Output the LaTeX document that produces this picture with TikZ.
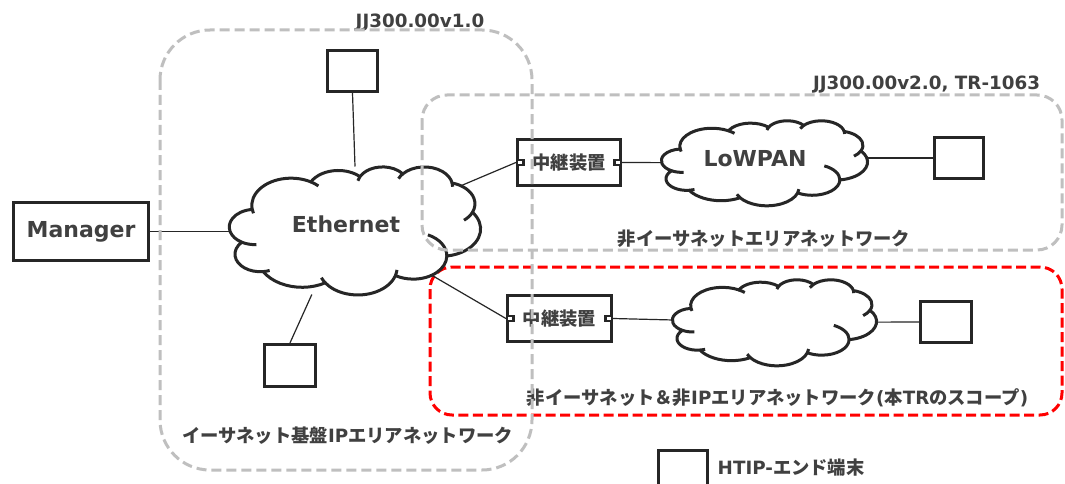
\documentclass[tikz,border=0pt]{standalone}
\usepackage{fontspec}
\setmainfont{DejaVu Sans}
\newfontfamily\latfont{DejaVu Sans}
\newfontfamily\jpfont{Noto Sans CJK JP}

\pgfdeclarelayer{bg}
\pgfdeclarelayer{wires}
\pgfdeclarelayer{fg}
\pgfsetlayers{bg,wires,main,fg}

\definecolor{ink}{HTML}{262626}
\definecolor{txt}{HTML}{404040}
\definecolor{zonegrey}{HTML}{BFBFBF}
\definecolor{scopered}{HTML}{FF0000}

% Latin run inside Japanese text
\newcommand\La[1]{{\latfont\bfseries #1}}

% Elliptic arc given by visual angles -> parametric start angle and sweep
\newcommand\cldprep[5]{%
  \pgfmathsetmacro\cldtmpS{atan2((#2)*sin(#4),(#3)*cos(#4))}%
  \pgfmathsetmacro\cldtmpE{atan2((#2)*sin(#5),(#3)*cos(#5))}%
  \pgfmathsetmacro\cldtmpD{mod(\cldtmpE-\cldtmpS+540,360)-180}%
  \expandafter\let\csname cldS#1\endcsname\cldtmpS
  \expandafter\let\csname cldD#1\endcsname\cldtmpD}

% Cloud: #1 name, #2/#3 centre, #4/#5 width/height (shape drawn on a 432x432 grid)
\newcommand\cloudat[5]{%
  \node[cloudbox, minimum width=#4, minimum height=#5] (#1) at (#2,#3) {};
  \pgfmathsetmacro\cldsx{#4/432}%
  \pgfmathsetmacro\cldsy{#5/432}%
  \begin{scope}[shift={(#2-#4/2,#3-#5/2)}, x=\cldsx pt, y=-\cldsy pt]
    \draw[cloudline, fill=white] (39.00,143.70) coordinate (#1-j1)
      arc[start angle=\cldSoa, delta angle=\cldDoa, x radius=67.53, y radius=91.90] coordinate (#1-j2)
      arc[start angle=\cldSob, delta angle=\cldDob, x radius=53.33, y radius=72.67] coordinate (#1-j3)
      arc[start angle=\cldSoc, delta angle=\cldDoc, x radius=43.65, y radius=59.45] coordinate (#1-j4)
      arc[start angle=\cldSod, delta angle=\cldDod, x radius=48.57, y radius=65.95] coordinate (#1-j5)
      arc[start angle=\cldSoe, delta angle=\cldDoe, x radius=53.33, y radius=72.73] coordinate (#1-j6)
      arc[start angle=\cldSof, delta angle=\cldDof, x radius=67.75, y radius=92.20] coordinate (#1-j7)
      arc[start angle=\cldSog, delta angle=\cldDog, x radius=57.85, y radius=78.67] coordinate (#1-j8)
      arc[start angle=\cldSoh, delta angle=\cldDoh, x radius=67.52, y radius=92.15] coordinate (#1-j9)
      arc[start angle=\cldSoi, delta angle=\cldDoi, x radius=77.20, y radius=105.43] coordinate (#1-j10)
      arc[start angle=\cldSoj, delta angle=\cldDoj, x radius=43.60, y radius=59.18] coordinate (#1-j11)
      arc[start angle=\cldSok, delta angle=\cldDok, x radius=43.45, y radius=59.45] -- cycle;
    \draw[cloudline]
      (#1-j1)  arc[start angle=\cldSha, delta angle=\cldDha, x radius=67.53, y radius=91.90]
      (#1-j11) arc[start angle=\cldShb, delta angle=\cldDhb, x radius=43.45, y radius=59.45]
      (#1-j10) arc[start angle=\cldShc, delta angle=\cldDhc, x radius=43.60, y radius=59.18]
      (#1-j9)  arc[start angle=\cldShd, delta angle=\cldDhd, x radius=67.52, y radius=92.15]
      (#1-j8)  arc[start angle=\cldShe, delta angle=\cldDhe, x radius=67.52, y radius=92.15]
      (#1-j7)  arc[start angle=\cldShf, delta angle=\cldDhf, x radius=57.85, y radius=78.67]
      (#1-j6)  arc[start angle=\cldShg, delta angle=\cldDhg, x radius=53.33, y radius=72.73]
      (#1-j5)  arc[start angle=\cldShh, delta angle=\cldDhh, x radius=48.57, y radius=65.95]
      (#1-j4)  arc[start angle=\cldShi, delta angle=\cldDhi, x radius=48.57, y radius=65.95]
      (#1-j3)  arc[start angle=\cldShj, delta angle=\cldDhj, x radius=43.65, y radius=59.45]
      (#1-j2)  arc[start angle=\cldShk, delta angle=\cldDhk, x radius=67.53, y radius=91.90];
  \end{scope}}

\begin{document}
\begin{tikzpicture}[x=1pt, y=-1pt,
  boxline/.style={draw=ink, line width=3.2pt, fill=white, inner sep=0pt},
  termbox/.style={boxline, minimum width=50, minimum height=41},
  relaybox/.style={boxline, minimum width=103, minimum height=46, text=txt,
    font=\jpfont\bfseries\fontsize{18.3}{22}\selectfont},
  portbox/.style={draw=ink, line width=2.4pt, fill=white, minimum width=6.5,
    minimum height=5.5, inner sep=0pt},
  cloudbox/.style={inner sep=0pt, outer sep=0pt},
  cloudline/.style={draw=ink, line width=3pt, line join=round},
  wire/.style={draw=ink, line width=1.2pt},
  zonebox/.style={draw=zonegrey, line width=3pt, dash pattern=on 10pt off 5pt},
  scopebox/.style={draw=scopered, line width=3pt, dash pattern=on 10pt off 4.5pt},
  latlbl/.style={text=txt, inner sep=0pt, font=\latfont\bfseries\fontsize{18.3}{22}\selectfont},
  biglbl/.style={text=txt, inner sep=0pt, font=\latfont\bfseries\fontsize{22}{26}\selectfont},
  jplbl/.style={text=txt, inner sep=0pt, font=\jpfont\bfseries\fontsize{18.3}{22}\selectfont},
]
% outline arcs of the cloud
\cldprep{oa}{67.53}{91.90}{-190.4875}{-66.7070}
\cldprep{ob}{53.33}{72.67}{-144.1024}{-54.1572}
\cldprep{oc}{43.65}{59.45}{-145.8079}{-46.0849}
\cldprep{od}{48.57}{65.95}{-130.9861}{-13.7444}
\cldprep{oe}{53.33}{72.73}{-78.7089}{30.3180}
\cldprep{of}{67.75}{92.20}{-46.2673}{84.0017}
\cldprep{og}{57.85}{78.67}{0.6250}{114.6583}
\cldprep{oh}{67.52}{92.15}{22.4516}{137.6242}
\cldprep{oi}{77.20}{105.43}{66.2426}{141.9536}
\cldprep{oj}{43.60}{59.18}{-274.9421}{-128.2065}
\cldprep{ok}{43.45}{59.45}{-246.8285}{-94.3096}
% inner hooks where the puffs meet
\cldprep{ha}{67.53}{91.90}{-190.4875}{157.6544}
\cldprep{hb}{43.45}{59.45}{-246.8285}{86.7420}
\cldprep{hc}{43.60}{59.18}{-274.9421}{73.6132}
\cldprep{hd}{67.52}{92.15}{137.6242}{151.7160}
\cldprep{he}{67.52}{92.15}{22.4516}{6.4533}
\cldprep{hf}{57.85}{78.67}{0.6250}{-70.2924}
\cldprep{hg}{53.33}{72.73}{30.3180}{58.0695}
\cldprep{hh}{48.57}{65.95}{-13.7444}{1.1145}
\cldprep{hi}{48.57}{65.95}{-130.9861}{-149.1815}
\cldprep{hj}{43.65}{59.45}{-145.8079}{-163.4943}
\cldprep{hk}{67.53}{91.90}{-66.7070}{-54.3877}

\useasboundingbox (0,0) rectangle (1065,484);

% scope of this TR
\begin{pgfonlayer}{bg}
  \fill[white] (0,0) rectangle (1065,484);
  \draw[scopebox, rounded corners=22] (430,267) rectangle (1062,415);
\end{pgfonlayer}

% networks
\cloudat{eth}{355}{230.5}{251}{128}
\cloudat{lp}{764.5}{163}{206}{85}
\cloudat{cl3}{774.5}{322.5}{204}{86}
\node[biglbl, anchor=base] (ethlbl) at (346,232.7) {Ethernet};
\node[biglbl, anchor=base] (lplbl) at (755,166) {LoWPAN};

% manager and end terminals
\node[boxline, biglbl, draw=ink, minimum width=135, minimum height=58] (mgr) at (81,231.5) {Manager};
\node[termbox] (ttop) at (352.5,71) {};
\node[termbox, minimum width=51, minimum height=42] (tbl) at (290,365.5) {};
\node[termbox, minimum width=49] (t2) at (959,158) {};
\node[termbox, minimum width=51] (t3) at (946,322) {};

% relay devices with their ports
\node[relaybox] (r1) at (569,162.5) {中継装置};
\node[portbox, anchor=west] (r1pl) at (r1.west) {};
\node[portbox, anchor=east] (r1pr) at (r1.east) {};
\node[relaybox, minimum width=104] (r2) at (559.5,318.5) {中継装置};
\node[portbox, anchor=west] (r2pl) at (r2.west) {};
\node[portbox, anchor=east] (r2pr) at (r2.east) {};

% links
\begin{pgfonlayer}{wires}
  \draw[wire] (mgr.east) -- (mgr.east -| eth.west);
  \draw[wire] (ttop.south) -- (eth.north);
  \draw[wire] (tbl.north) -- (eth.236);
  \draw[wire] (eth.center) -- (r1pl.west);
  \draw[wire] (eth.center) -- (r2pl.west);
  \draw[wire] (r1pr.east) -- (lp.center);
  \draw[wire] (lp.center |- t2.west) -- (t2.west);
  \draw[wire] (r2pr.east) -- (cl3.center);
  \draw[wire] (cl3.center) -- (t3.west);
\end{pgfonlayer}

% area labels
\node[latlbl, anchor=base] (v1) at (420,28) {JJ300.00v1.0};
\node[latlbl, anchor=base] (v2) at (926.5,89.3) {JJ300.00v2.0, TR-1063};
\node[jplbl] (nonethlbl) at (764,238.5) {非イーサネットエリアネットワーク};
\node[jplbl] (scopelbl) at (777.5,397.5) {非イーサネット＆非\La{IP}エリアネットワーク\La{(}本\La{TR}のスコープ\La{)}};
\node[jplbl] (iplbl) at (347.5,436) {イーサネット基盤\La{IP}エリアネットワーク};

% legend
\node[termbox, minimum width=49] (lgd) at (683,471.1) {};
\node[jplbl, anchor=west] (lgdlbl) at (717.5,467.5) {\La{HTIP-}エンド端末};

% standard versions
\begin{pgfonlayer}{fg}
  \draw[zonebox, rounded corners=50] (160,30) rectangle (532,470);
  \draw[zonebox, rounded corners=25] (422,95) rectangle (1062,250);
\end{pgfonlayer}
\end{tikzpicture}
\end{document}
